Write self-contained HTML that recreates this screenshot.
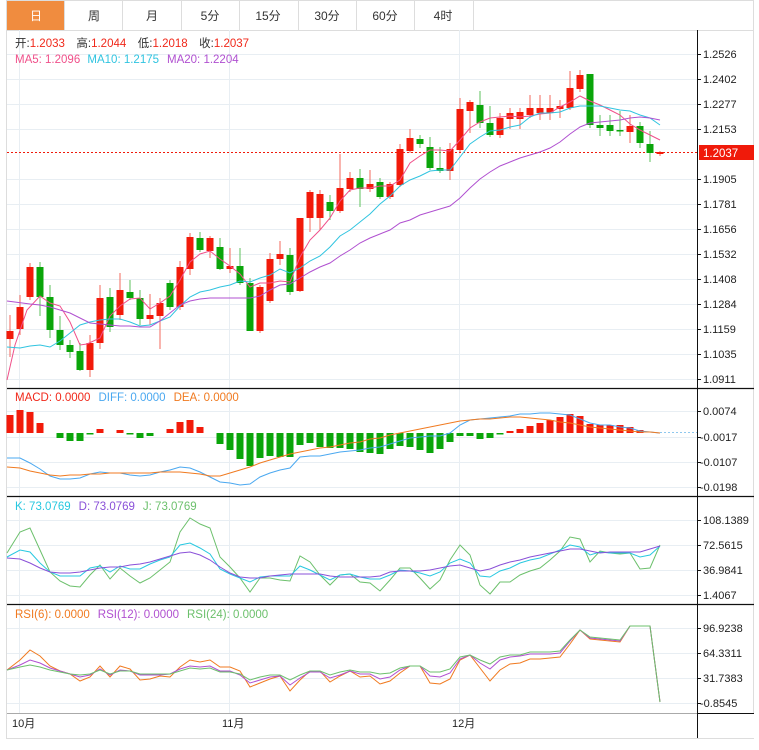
<!DOCTYPE html>
<html><head><meta charset="utf-8"><style>
html,body{margin:0;padding:0;background:#fff;}
body{width:759px;height:745px;overflow:hidden;font-family:"Liberation Sans","Noto Sans CJK SC",sans-serif;}
svg text{font-family:"Liberation Sans","Noto Sans CJK SC",sans-serif;}
</style></head><body>
<svg width="759" height="745" viewBox="0 0 759 745" xmlns="http://www.w3.org/2000/svg">
<!-- tabs -->
<rect x="6.5" y="0.5" width="747" height="30" fill="#fff" stroke="#ddd"/>
<rect x="7" y="1" width="57" height="29" fill="#f08c3f"/>
<g stroke="#ddd"><line x1="64.5" y1="0" x2="64.5" y2="30"/><line x1="122.5" y1="0" x2="122.5" y2="30"/><line x1="181.5" y1="0" x2="181.5" y2="30"/><line x1="239.5" y1="0" x2="239.5" y2="30"/><line x1="298.5" y1="0" x2="298.5" y2="30"/><line x1="356.5" y1="0" x2="356.5" y2="30"/><line x1="414.5" y1="0" x2="414.5" y2="30"/><line x1="473.5" y1="0" x2="473.5" y2="30"/></g>
<g font-size="12" text-anchor="middle" fill="#333"><text x="36" y="20" fill="#fff">日</text><text x="94" y="20">周</text><text x="152" y="20">月</text><text x="210" y="20">5分</text><text x="268" y="20">15分</text><text x="327" y="20">30分</text><text x="385" y="20">60分</text><text x="443" y="20">4时</text></g>
<!-- frame -->
<line x1="6.5" y1="30" x2="6.5" y2="738" stroke="#ddd"/>
<line x1="753.5" y1="30" x2="753.5" y2="713" stroke="#ddd"/>
<line x1="6" y1="738.5" x2="754" y2="738.5" stroke="#ddd"/>
<!-- grid -->
<g stroke="#e8eef3" stroke-width="1">
<line x1="7" y1="54.5" x2="697" y2="54.5"/><line x1="7" y1="79.5" x2="697" y2="79.5"/><line x1="7" y1="104.5" x2="697" y2="104.5"/><line x1="7" y1="129.5" x2="697" y2="129.5"/><line x1="7" y1="179.5" x2="697" y2="179.5"/><line x1="7" y1="204.5" x2="697" y2="204.5"/><line x1="7" y1="229.5" x2="697" y2="229.5"/><line x1="7" y1="254.5" x2="697" y2="254.5"/><line x1="7" y1="279.5" x2="697" y2="279.5"/><line x1="7" y1="304.5" x2="697" y2="304.5"/><line x1="7" y1="329.5" x2="697" y2="329.5"/><line x1="7" y1="354.5" x2="697" y2="354.5"/><line x1="7" y1="379.5" x2="697" y2="379.5"/>
<line x1="7" y1="411.5" x2="697" y2="411.5"/><line x1="7" y1="437.5" x2="697" y2="437.5"/><line x1="7" y1="462.5" x2="697" y2="462.5"/><line x1="7" y1="487.5" x2="697" y2="487.5"/>
<line x1="7" y1="520.5" x2="697" y2="520.5"/><line x1="7" y1="545.5" x2="697" y2="545.5"/><line x1="7" y1="570.5" x2="697" y2="570.5"/><line x1="7" y1="595.5" x2="697" y2="595.5"/>
<line x1="7" y1="628.5" x2="697" y2="628.5"/><line x1="7" y1="653.5" x2="697" y2="653.5"/><line x1="7" y1="678.5" x2="697" y2="678.5"/><line x1="7" y1="703.5" x2="697" y2="703.5"/>
<line x1="19.5" y1="30" x2="19.5" y2="713"/><line x1="229.5" y1="30" x2="229.5" y2="713"/><line x1="459.5" y1="30" x2="459.5" y2="713"/>
</g>
<!-- panel separators -->
<g stroke="#111" stroke-width="1.3"><line x1="7" y1="388.5" x2="754" y2="388.5"/><line x1="7" y1="496.5" x2="754" y2="496.5"/><line x1="7" y1="604.5" x2="754" y2="604.5"/></g>
<line x1="7" y1="713.5" x2="697" y2="713.5" stroke="#aaa"/>
<line x1="697" y1="713.5" x2="754" y2="713.5" stroke="#111"/>
<line x1="697.5" y1="30" x2="697.5" y2="738" stroke="#111"/>
<!-- price axis ticks -->
<g stroke="#111"><line x1="697" y1="54.5" x2="701" y2="54.5"/><line x1="697" y1="79.5" x2="701" y2="79.5"/><line x1="697" y1="104.5" x2="701" y2="104.5"/><line x1="697" y1="129.5" x2="701" y2="129.5"/><line x1="697" y1="179.5" x2="701" y2="179.5"/><line x1="697" y1="204.5" x2="701" y2="204.5"/><line x1="697" y1="229.5" x2="701" y2="229.5"/><line x1="697" y1="254.5" x2="701" y2="254.5"/><line x1="697" y1="279.5" x2="701" y2="279.5"/><line x1="697" y1="304.5" x2="701" y2="304.5"/><line x1="697" y1="329.5" x2="701" y2="329.5"/><line x1="697" y1="354.5" x2="701" y2="354.5"/><line x1="697" y1="379.5" x2="701" y2="379.5"/>
<line x1="697" y1="411.5" x2="701" y2="411.5"/><line x1="697" y1="437.5" x2="701" y2="437.5"/><line x1="697" y1="462.5" x2="701" y2="462.5"/><line x1="697" y1="487.5" x2="701" y2="487.5"/>
<line x1="697" y1="520.5" x2="701" y2="520.5"/><line x1="697" y1="545.5" x2="701" y2="545.5"/><line x1="697" y1="570.5" x2="701" y2="570.5"/><line x1="697" y1="595.5" x2="701" y2="595.5"/>
<line x1="697" y1="628.5" x2="701" y2="628.5"/><line x1="697" y1="653.5" x2="701" y2="653.5"/><line x1="697" y1="678.5" x2="701" y2="678.5"/><line x1="697" y1="703.5" x2="701" y2="703.5"/></g>
<g font-size="11" fill="#222">
<text x="703" y="58">1.2526</text><text x="703" y="83">1.2402</text><text x="703" y="108">1.2277</text><text x="703" y="133">1.2153</text><text x="703" y="183">1.1905</text><text x="703" y="208">1.1781</text><text x="703" y="233">1.1656</text><text x="703" y="258">1.1532</text><text x="703" y="283">1.1408</text><text x="703" y="308">1.1284</text><text x="703" y="333">1.1159</text><text x="703" y="358">1.1035</text><text x="703" y="383">1.0911</text>
<text x="703" y="415">0.0074</text><text x="700" y="441">-0.0017</text><text x="700" y="466">-0.0107</text><text x="700" y="491">-0.0198</text>
<text x="703" y="524">108.1389</text><text x="703" y="549">72.5615</text><text x="703" y="574">36.9841</text><text x="703" y="599">1.4067</text>
<text x="703" y="632">96.9238</text><text x="703" y="657">64.3311</text><text x="703" y="682">31.7383</text><text x="700" y="707">-0.8545</text>
<text x="12" y="727">10月</text><text x="222" y="727">11月</text><text x="452" y="727">12月</text>
</g>
<!-- current price -->
<line x1="7" y1="152.5" x2="697" y2="152.5" stroke="#f01a0a" stroke-dasharray="2,2"/>
<rect x="699" y="145" width="55" height="15" fill="#f01a0a"/>
<text x="703" y="157" font-size="11.5" fill="#fff">1.2037</text>
<!-- candles -->
<g id="c">
<g stroke="#f36a5c" stroke-width="1">
<line x1="10" y1="315" x2="10" y2="357"/><line x1="20" y1="295" x2="20" y2="335"/><line x1="30" y1="263" x2="30" y2="300"/><line x1="90" y1="335" x2="90" y2="377"/><line x1="100" y1="285" x2="100" y2="349"/><line x1="120" y1="273" x2="120" y2="320"/><line x1="150" y1="294" x2="150" y2="325"/><line x1="160" y1="298" x2="160" y2="349"/><line x1="180" y1="261" x2="180" y2="310"/><line x1="190" y1="233" x2="190" y2="275"/><line x1="210" y1="236" x2="210" y2="258"/><line x1="230" y1="248" x2="230" y2="273"/><line x1="260" y1="285" x2="260" y2="333"/><line x1="270" y1="253" x2="270" y2="303"/><line x1="280" y1="241" x2="280" y2="265"/><line x1="300" y1="218" x2="300" y2="292"/><line x1="310" y1="190" x2="310" y2="232"/><line x1="320" y1="190" x2="320" y2="230"/><line x1="340" y1="154" x2="340" y2="213"/><line x1="350" y1="172" x2="350" y2="192"/><line x1="370" y1="170" x2="370" y2="192"/><line x1="390" y1="182" x2="390" y2="199"/><line x1="400" y1="144" x2="400" y2="187"/><line x1="410" y1="129" x2="410" y2="153"/><line x1="450" y1="143" x2="450" y2="180"/><line x1="460" y1="98" x2="460" y2="152"/><line x1="470" y1="100" x2="470" y2="133"/><line x1="500" y1="113" x2="500" y2="138"/><line x1="510" y1="108" x2="510" y2="129"/><line x1="520" y1="108" x2="520" y2="129"/><line x1="530" y1="95" x2="530" y2="118"/><line x1="540" y1="95" x2="540" y2="120"/><line x1="550" y1="95" x2="550" y2="120"/><line x1="560" y1="100" x2="560" y2="118"/><line x1="570" y1="71" x2="570" y2="110"/><line x1="580" y1="70" x2="580" y2="92"/><line x1="630" y1="115" x2="630" y2="143"/><line x1="660" y1="151" x2="660" y2="156"/>
</g>
<g stroke="#5cc05c" stroke-width="1">
<line x1="40" y1="262" x2="40" y2="316"/><line x1="50" y1="285" x2="50" y2="338"/><line x1="60" y1="316" x2="60" y2="350"/><line x1="70" y1="340" x2="70" y2="358"/><line x1="80" y1="343" x2="80" y2="371"/><line x1="110" y1="288" x2="110" y2="332"/><line x1="130" y1="280" x2="130" y2="300"/><line x1="140" y1="290" x2="140" y2="325"/><line x1="170" y1="280" x2="170" y2="310"/><line x1="200" y1="232" x2="200" y2="252"/><line x1="220" y1="238" x2="220" y2="270"/><line x1="240" y1="248" x2="240" y2="285"/><line x1="250" y1="278" x2="250" y2="331"/><line x1="290" y1="248" x2="290" y2="295"/><line x1="330" y1="195" x2="330" y2="220"/><line x1="360" y1="169" x2="360" y2="207"/><line x1="380" y1="178" x2="380" y2="199"/><line x1="420" y1="135" x2="420" y2="148"/><line x1="430" y1="137" x2="430" y2="170"/><line x1="440" y1="147" x2="440" y2="173"/><line x1="480" y1="91" x2="480" y2="128"/><line x1="490" y1="106" x2="490" y2="137"/><line x1="590" y1="74" x2="590" y2="128"/><line x1="600" y1="115" x2="600" y2="136"/><line x1="610" y1="115" x2="610" y2="136"/><line x1="620" y1="111" x2="620" y2="136"/><line x1="640" y1="122" x2="640" y2="148"/><line x1="650" y1="131" x2="650" y2="162"/>
</g>
<g fill="#f21a0a">
<rect x="6.5" y="331" width="7" height="8"/><rect x="16.5" y="307" width="7" height="22"/><rect x="26.5" y="267" width="7" height="30"/><rect x="86.5" y="343" width="7" height="27"/><rect x="96.5" y="298" width="7" height="45"/><rect x="116.5" y="290" width="7" height="25"/><rect x="146.5" y="315" width="7" height="4"/><rect x="156.5" y="303" width="7" height="13"/><rect x="176.5" y="267" width="7" height="40"/><rect x="186.5" y="237" width="7" height="32"/><rect x="206.5" y="238" width="7" height="13"/><rect x="226.5" y="266" width="7" height="3"/><rect x="256.5" y="287" width="7" height="44"/><rect x="266.5" y="259" width="7" height="42"/><rect x="276.5" y="254" width="7" height="5"/><rect x="296.5" y="218" width="7" height="73"/><rect x="306.5" y="192" width="7" height="26"/><rect x="316.5" y="194" width="7" height="24"/><rect x="336.5" y="188" width="7" height="23"/><rect x="346.5" y="178" width="7" height="11"/><rect x="366.5" y="184" width="7" height="5"/><rect x="386.5" y="184" width="7" height="13"/><rect x="396.5" y="149" width="7" height="36"/><rect x="406.5" y="138" width="7" height="13"/><rect x="446.5" y="149" width="7" height="22"/><rect x="456.5" y="109" width="7" height="41"/><rect x="466.5" y="102" width="7" height="9"/><rect x="496.5" y="118" width="7" height="17"/><rect x="506.5" y="113" width="7" height="6"/><rect x="516.5" y="112" width="7" height="7"/><rect x="526.5" y="108" width="7" height="7"/><rect x="536.5" y="108" width="7" height="5"/><rect x="546.5" y="108" width="7" height="5"/><rect x="556.5" y="106" width="7" height="3"/><rect x="566.5" y="88" width="7" height="20"/><rect x="576.5" y="75" width="7" height="14"/><rect x="626.5" y="126" width="7" height="6"/><rect x="656.5" y="152" width="7" height="2"/>
</g>
<g fill="#0aa50a">
<rect x="36.5" y="267" width="7" height="30"/><rect x="46.5" y="297" width="7" height="33"/><rect x="56.5" y="330" width="7" height="15"/><rect x="66.5" y="345" width="7" height="7"/><rect x="76.5" y="351" width="7" height="19"/><rect x="106.5" y="297" width="7" height="30"/><rect x="126.5" y="292" width="7" height="6"/><rect x="136.5" y="298" width="7" height="21"/><rect x="166.5" y="283" width="7" height="24"/><rect x="196.5" y="238" width="7" height="12"/><rect x="216.5" y="247" width="7" height="22"/><rect x="236.5" y="266" width="7" height="17"/><rect x="246.5" y="283" width="7" height="48"/><rect x="286.5" y="255" width="7" height="37"/><rect x="326.5" y="202" width="7" height="9"/><rect x="356.5" y="178" width="7" height="11"/><rect x="376.5" y="182" width="7" height="15"/><rect x="416.5" y="139" width="7" height="5"/><rect x="426.5" y="147" width="7" height="21"/><rect x="436.5" y="168" width="7" height="3"/><rect x="476.5" y="105" width="7" height="18"/><rect x="486.5" y="123" width="7" height="12"/><rect x="586.5" y="74" width="7" height="51"/><rect x="596.5" y="125" width="7" height="3"/><rect x="606.5" y="125" width="7" height="6"/><rect x="616.5" y="130" width="7" height="1.5"/><rect x="636.5" y="126" width="7" height="17"/><rect x="646.5" y="144" width="7" height="9"/>
</g>
</g>
<!-- MAs -->
<g fill="none" stroke-width="1">
<polyline stroke="#f0508a" points="7,380 15,345 27,310 40,296 50,303 60,306 70,322 80,345 87,344 100,338 110,316 120,306 130,299 140,298 150,309 160,303 170,296 180,280 190,262 200,254 210,251 220,259 230,266 240,274 250,287 260,283 270,283 280,281 290,282 300,257 310,240 320,230 330,218 340,201 350,190 360,188 370,188 380,186 390,186 400,180 410,163 420,156 430,150 440,150 450,151 460,140 470,128 480,122 490,118 500,117 510,116 520,117 530,116 540,114 550,113 560,107 570,102 580,96 590,101 600,105 610,110 620,115 630,124 640,130 650,135 660,140"/>
<polyline stroke="#30c4e0" points="7,347 20,348 30,346 40,345 50,347 60,341 70,333 80,325 90,322 100,320 110,319 120,319 130,322 140,326 150,325 160,321 170,317 180,306 190,297 200,292 210,290 220,287 230,285 240,281 250,282 260,278 270,275 280,269 290,273 300,268 310,261 320,256 330,247 340,236 350,230 360,222 370,214 380,204 390,196 400,186 410,180 420,176 430,171 440,170 450,170 460,157 470,144 480,137 490,131 500,130 510,127 520,125 530,117 540,113 550,113 560,112 570,108 580,106 590,106 600,106 610,108 620,110 630,111 640,115 650,118 660,125"/>
<polyline stroke="#b050d0" points="7,301 30,304 40,305 50,307 60,310 70,313 80,318 90,323 100,324 110,325 120,326 130,326 140,327 150,327 160,321 170,313 180,305 190,301 200,299 210,298 250,298 260,296 270,290 280,285 290,284 300,278 310,272 320,267 330,263 340,256 350,250 360,243 370,238 380,234 390,230 400,223 410,220 420,215 430,212 440,209 450,206 460,198 470,188 480,179 490,172 500,166 510,162 520,158 530,155 540,152 550,148 560,142 570,134 580,127 590,123 600,122 610,121 620,120 630,118 640,117 650,118 660,120"/>
</g>
<g font-size="11.5">
<text x="15" y="47" fill="#333">开:<tspan fill="#f0281a">1.2033</tspan>　高:<tspan fill="#f0281a">1.2044</tspan>　低:<tspan fill="#f0281a">1.2018</tspan>　收:<tspan fill="#f0281a">1.2037</tspan></text>
<text x="15" y="63" fill="#f0508a">MA5: 1.2096 <tspan fill="#30c4e0" dx="4">MA10: 1.2175</tspan><tspan fill="#b050d0" dx="8">MA20: 1.2204</tspan></text>
</g>
<!-- MACD -->
<line x1="660" y1="432.5" x2="697" y2="432.5" stroke="#8fc8ee" stroke-dasharray="2,2"/>
<g fill="#f21a0a">
<rect x="6.5" y="415" width="7" height="18"/><rect x="16.5" y="410" width="7" height="23"/><rect x="26.5" y="412" width="7" height="21"/><rect x="36.5" y="423" width="7" height="10"/><rect x="96.5" y="429" width="7" height="4"/><rect x="116.5" y="430" width="7" height="3"/><rect x="166.5" y="429" width="7" height="4"/><rect x="176.5" y="422" width="7" height="11"/><rect x="186.5" y="420" width="7" height="13"/><rect x="196.5" y="427" width="7" height="6"/>
<rect x="506.5" y="431" width="7" height="2"/><rect x="516.5" y="429" width="7" height="4"/><rect x="526.5" y="426" width="7" height="7"/><rect x="536.5" y="423" width="7" height="10"/><rect x="546.5" y="420" width="7" height="13"/><rect x="556.5" y="417" width="7" height="16"/><rect x="566.5" y="414" width="7" height="19"/><rect x="576.5" y="416" width="7" height="17"/><rect x="586.5" y="424" width="7" height="9"/><rect x="596.5" y="425" width="7" height="8"/><rect x="606.5" y="425" width="7" height="8"/><rect x="616.5" y="425" width="7" height="8"/><rect x="626.5" y="427" width="7" height="6"/><rect x="636.5" y="430" width="7" height="3"/>
</g>
<g fill="#0aa50a">
<rect x="56.5" y="433" width="7" height="5"/><rect x="66.5" y="433" width="7" height="8"/><rect x="76.5" y="433" width="7" height="8"/><rect x="86.5" y="433" width="7" height="1.5"/><rect x="126.5" y="433" width="7" height="1.5"/><rect x="136.5" y="433" width="7" height="5"/><rect x="146.5" y="433" width="7" height="3"/>
<rect x="216.5" y="433" width="7" height="11"/><rect x="226.5" y="433" width="7" height="17"/><rect x="236.5" y="433" width="7" height="26"/><rect x="246.5" y="433" width="7" height="33"/><rect x="256.5" y="433" width="7" height="25"/><rect x="266.5" y="433" width="7" height="23"/><rect x="276.5" y="433" width="7" height="24"/><rect x="286.5" y="433" width="7" height="24"/><rect x="296.5" y="433" width="7" height="12"/><rect x="306.5" y="433" width="7" height="10"/><rect x="316.5" y="433" width="7" height="14"/><rect x="326.5" y="433" width="7" height="15"/><rect x="336.5" y="433" width="7" height="15"/><rect x="346.5" y="433" width="7" height="16"/><rect x="356.5" y="433" width="7" height="19"/><rect x="366.5" y="433" width="7" height="20"/><rect x="376.5" y="433" width="7" height="21"/><rect x="386.5" y="433" width="7" height="16"/><rect x="396.5" y="433" width="7" height="13"/><rect x="406.5" y="433" width="7" height="14"/><rect x="416.5" y="433" width="7" height="17"/><rect x="426.5" y="433" width="7" height="20"/><rect x="436.5" y="433" width="7" height="16"/><rect x="446.5" y="433" width="7" height="9"/><rect x="456.5" y="433" width="7" height="3"/><rect x="466.5" y="433" width="7" height="3"/><rect x="476.5" y="433" width="7" height="6"/><rect x="486.5" y="433" width="7" height="5"/><rect x="496.5" y="433" width="7" height="1.5"/>
</g>
<g fill="none" stroke-width="1">
<polyline stroke="#4aa8f0" points="7,458 20,458 30,463 40,469 50,476 60,479 70,479 80,478 90,474 100,472 110,473 120,473 130,475 140,476 150,475 160,472 170,470 180,467 190,468 200,472 210,477 220,482 230,483 240,485 250,484 260,477 270,473 280,470 290,468 300,457 310,456 320,456 330,454 340,452 350,451 360,450 370,448 380,447 390,444 400,441 410,438 420,437 430,436 440,436 450,433 460,425 470,420 480,419 490,418 500,417 510,416 520,414 530,414 540,413 550,413 560,414 570,415 580,419 590,423 600,425 610,425 620,427 630,428 640,431 650,432 660,433"/>
<polyline stroke="#f07a20" points="7,467 20,468 30,471 40,473 50,475 60,476 70,475 80,475 90,474 100,474 110,473 140,473 150,473 160,472 170,472 180,472 190,473 200,474 210,476 220,476 230,473 240,470 250,467 260,463 270,460 280,457 290,454 300,452 310,450 320,448 330,447 340,445 350,443 360,442 370,439 380,438 390,435 400,433 410,431 420,429 430,427 440,425 450,423 460,421 470,420 480,419 490,419 500,418 510,417 520,417 530,418 540,419 550,420 560,422 570,423 580,425 590,427 600,428 610,429 620,430 630,431 640,432 650,432 660,433"/>
</g>
<text x="15" y="401" font-size="11.5" fill="#f0281a">MACD: 0.0000<tspan fill="#4aa8f0" dx="8">DIFF: 0.0000</tspan><tspan fill="#f07a20" dx="8">DEA: 0.0000</tspan></text>
<!-- KDJ -->
<g fill="none" stroke-width="1">
<polyline stroke="#6cc06c" points="7,553 20,532 30,528 40,550 50,572 60,581 70,586 80,587 90,575 100,565 110,579 120,568 130,576 140,583 150,578 160,570 170,562 180,532 190,518 200,524 210,528 220,557 230,567 240,578 250,592 260,578 270,578 280,580 290,581 300,556 310,562 320,575 330,585 340,575 350,574 360,582 370,583 380,591 390,580 400,568 410,568 420,578 430,589 440,580 450,560 460,545 470,555 480,585 490,594 500,582 510,582 520,575 530,571 540,568 550,560 560,551 570,537 580,539 590,562 600,551 610,553 620,554 630,553 640,569 650,568 660,545"/>
<polyline stroke="#28c8e0" points="7,557 20,550 30,552 40,563 50,572 60,576 70,576 80,576 90,568 100,566 110,572 120,566 130,569 140,569 150,564 160,560 170,557 180,545 190,543 200,548 210,554 220,569 230,574 240,578 250,582 260,577 270,576 280,576 290,576 300,566 310,570 320,575 330,580 340,575 350,574 360,577 370,579 380,579 390,575 400,570 410,571 420,573 430,576 440,572 450,563 460,559 470,563 480,576 490,577 500,571 510,568 520,563 530,560 540,558 550,554 560,550 570,545 580,547 590,555 600,552 610,553 620,553 630,553 640,557 650,555 660,546"/>
<polyline stroke="#8a50d8" points="7,558 20,559 30,563 40,568 50,572 60,573 70,573 80,572 90,570 100,568 110,567 120,567 130,565 140,564 150,562 160,559 170,556 180,553 190,552 200,555 210,560 220,567 230,573 240,577 250,578 260,578 270,576 280,575 290,574 300,574 310,574 320,574 330,576 340,577 350,577 360,577 370,577 380,576 390,572 400,571 410,571 420,571 430,570 440,568 450,566 460,565 470,568 480,571 490,569 500,565 510,562 520,560 530,557 540,555 550,553 560,551 570,549 580,549 590,551 600,553 610,552 620,552 630,552 640,552 650,549 660,546"/>
</g>
<text x="15" y="510" font-size="11.5" fill="#28c8e0">K: 73.0769<tspan fill="#8a50d8" dx="8">D: 73.0769</tspan><tspan fill="#6cc06c" dx="8">J: 73.0769</tspan></text>
<!-- RSI -->
<g fill="none" stroke-width="1">
<polyline stroke="#f07a20" points="7,670 20,660 30,650 40,656 50,666 60,671 70,674 80,681 90,677 100,666 110,677 120,666 130,669 140,680 150,679 160,676 170,677 180,667 190,660 200,662 210,660 220,667 230,667 240,671 250,687 260,683 270,679 280,676 290,691 300,680 310,671 320,671 330,682 340,676 350,671 360,677 370,676 380,684 390,681 400,673 410,666 420,666 430,683 440,684 450,679 460,660 470,655 480,668 490,681 500,670 510,664 520,663 530,659 540,659 550,658 560,657 570,644 580,630 590,639 600,640 610,641 620,642 630,626 640,626 650,626 660,702"/>
<polyline stroke="#b050d0" points="7,670 20,665 30,660 40,663 50,668 60,671 70,674 80,677 90,675 100,669 110,675 120,670 130,671 140,675 160,675 170,674 180,669 190,666 200,667 210,666 220,671 230,671 240,675 250,683 260,680 270,677 280,676 290,685 300,678 310,672 320,672 330,678 340,675 350,671 360,674 370,674 380,679 390,677 400,670 410,666 420,666 430,676 440,677 450,673 460,659 470,655 480,663 490,669 500,660 510,657 520,656 530,654 550,654 560,653 570,641 580,630 590,638 600,639 610,640 620,641 630,626 650,626 660,702"/>
<polyline stroke="#6cc06c" points="7,670 20,667 30,665 40,667 50,670 60,672 70,674 80,675 90,674 100,670 110,674 120,671 130,671 140,674 170,674 180,671 190,668 200,669 210,668 220,672 230,672 240,674 250,680 260,677 270,675 280,675 290,680 300,675 310,671 320,671 330,675 340,672 350,670 360,672 370,672 380,674 390,673 400,668 410,666 420,666 430,672 440,672 450,669 460,657 470,655 480,660 490,664 500,657 510,655 520,655 530,652 550,652 560,651 570,640 580,630 590,637 600,638 610,639 620,640 630,626 650,626 660,702"/>
</g>
<text x="15" y="618" font-size="11.5" fill="#f07a20">RSI(6): 0.0000<tspan fill="#b050d0" dx="8">RSI(12): 0.0000</tspan><tspan fill="#6cc06c" dx="8">RSI(24): 0.0000</tspan></text>
</svg>
</body></html>
